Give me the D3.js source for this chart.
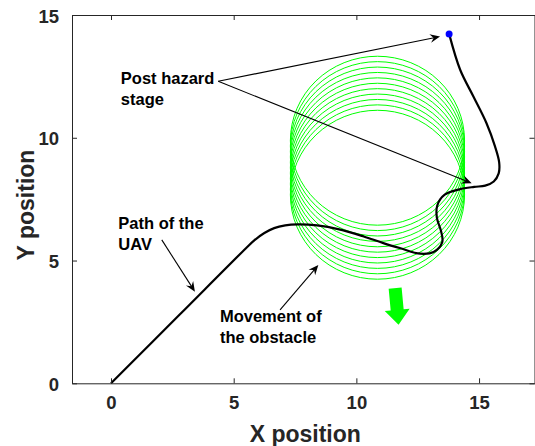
<!DOCTYPE html>
<html>
<head>
<meta charset="utf-8">
<script src="https://cdn.jsdelivr.net/npm/d3@7"></script>
<style>
  body { margin: 0; background: #fff; }
  text { font-family: 'Liberation Sans', Arial, Helvetica, sans-serif; font-weight: bold; }
</style>
</head>
<body>
<div id="chart"></div>
<script>
// ticks
const xTicks = [0, 5, 10, 15]
const yTicks = [0, 5, 10, 15]

// path of the UAV (x, y)
const uavX = [0, 2.8, 5.5, 5.85, 6.25, 6.65, 7.1, 7.6, 8.4, 9.3, 10.3, 11.1, 11.8, 12.6, 13.15, 13.5, 13.45, 13.28, 13.3, 13.6, 14.2, 14.8, 15.25, 15.6, 15.8, 15.82, 15.65, 15.3, 14.77, 14.23, 13.78]
const uavY = [0, 2.8, 5.5, 5.83, 6.12, 6.32, 6.43, 6.47, 6.43, 6.27, 5.98, 5.71, 5.5, 5.28, 5.35, 5.75, 6.2, 6.75, 7.25, 7.68, 7.9, 8.0, 8.05, 8.22, 8.55, 9.0, 9.65, 10.6, 11.68, 12.77, 14.23]

// obstacle positions (circle centres) as it moves down
const obstacleX = [10.86, 10.86, 10.86, 10.86, 10.86, 10.86, 10.86, 10.86, 10.86, 10.86, 10.86]
const obstacleY = [9.88, 9.66, 9.44, 9.22, 9.0, 8.78, 8.56, 8.34, 8.12, 7.9, 7.68]
const obstacleRx = 3.55
const obstacleRy = 3.44

// movement arrow of the obstacle: [start, end]
const moveArrowX = [11.58, 11.72]
const moveArrowY = [3.88, 2.38]

// annotations
const labels = [
  { lines: ['Post hazard', 'stage'], x: 0.4, y: 12.2 },
  { lines: ['Path of the', 'UAV'], x: 0.3, y: 6.28 },
  { lines: ['Movement of', 'the obstacle'], x: 4.44, y: 2.51 }
]
const arrows = [
  { x1: 4.37, y1: 12.3, x2: 13.41, y2: 14.12 },
  { x1: 4.37, y1: 12.3, x2: 14.7, y2: 8.15 },
  { x1: 2.07, y1: 5.84, x2: 3.42, y2: 3.73 },
  { x1: 6.89, y1: 2.99, x2: 8.45, y2: 4.82 }
]

const W = 535
const H = 446
const plot = { left: 72, right: 534.5, top: 15, bottom: 383.3 }

const svg = d3
  .select('#chart')
  .append('svg')
  .attr('width', W)
  .attr('height', H)

const xPositionScale = d3
  .scaleLinear()
  .domain([-1.59, 17.26])
  .range([plot.left, plot.right])
const yPositionScale = d3
  .scaleLinear()
  .domain([0, 15])
  .range([plot.bottom, plot.top])

// obstacle circles
svg
  .selectAll('.obstacle')
  .data(obstacleY)
  .enter()
  .append('ellipse')
  .attr('class', 'obstacle')
  .attr('cx', (d, i) => xPositionScale(obstacleX[i]))
  .attr('cy', d => yPositionScale(d))
  .attr('rx', xPositionScale(obstacleRx) - xPositionScale(0))
  .attr('ry', yPositionScale(0) - yPositionScale(obstacleRy))
  .attr('fill', 'none')
  .attr('stroke', '#00ff00')
  .attr('stroke-width', 1)

// green movement arrow
{
  const sx = xPositionScale(moveArrowX[0])
  const sy = yPositionScale(moveArrowY[0])
  const ex = xPositionScale(moveArrowX[1])
  const ey = yPositionScale(moveArrowY[1])
  const len = Math.hypot(ex - sx, ey - sy)
  const ux = (ex - sx) / len
  const uy = (ey - sy) / len
  const px = -uy
  const py = ux
  const headLen = 15
  const shaftW = 6.5
  const headW = 12.5
  const bx = ex - ux * headLen
  const by = ey - uy * headLen
  const pts = [
    [sx + px * shaftW, sy + py * shaftW],
    [bx + px * shaftW, by + py * shaftW],
    [bx + px * headW, by + py * headW],
    [ex, ey],
    [bx - px * headW, by - py * headW],
    [bx - px * shaftW, by - py * shaftW],
    [sx - px * shaftW, sy - py * shaftW]
  ]
  svg
    .append('polygon')
    .attr('points', pts.map(p => p.join(',')).join(' '))
    .attr('fill', '#00ff00')
}

// UAV path
const uavPoints = uavX.map((x, i) => ({ x: x, y: uavY[i] }))
const line = d3
  .line()
  .x(d => xPositionScale(d.x))
  .y(d => yPositionScale(d.y))
  .curve(d3.curveCatmullRom.alpha(0.5))

svg
  .append('path')
  .datum(uavPoints)
  .attr('d', line)
  .attr('fill', 'none')
  .attr('stroke', '#000')
  .attr('stroke-width', 2.2)
  .attr('stroke-linejoin', 'round')

const last = uavPoints[uavPoints.length - 1]
svg
  .append('circle')
  .attr('cx', xPositionScale(last.x))
  .attr('cy', yPositionScale(last.y))
  .attr('r', 3.5)
  .attr('fill', '#0000ff')

// annotation arrows
arrows.forEach(a => {
  const sx = xPositionScale(a.x1)
  const sy = yPositionScale(a.y1)
  const ex = xPositionScale(a.x2)
  const ey = yPositionScale(a.y2)
  const len = Math.hypot(ex - sx, ey - sy)
  const ux = (ex - sx) / len
  const uy = (ey - sy) / len
  const px = -uy
  const py = ux
  svg
    .append('line')
    .attr('x1', sx)
    .attr('y1', sy)
    .attr('x2', ex - ux * 6)
    .attr('y2', ey - uy * 6)
    .attr('stroke', '#000')
    .attr('stroke-width', 1.1)
  const L = 10
  const N = 6.5
  const w = 4.3
  const head = [
    [ex, ey],
    [ex - ux * L + px * w, ey - uy * L + py * w],
    [ex - ux * N, ey - uy * N],
    [ex - ux * L - px * w, ey - uy * L - py * w]
  ]
  svg
    .append('polygon')
    .attr('points', head.map(p => p.join(',')).join(' '))
    .attr('fill', '#000')
})

// annotation texts
labels.forEach(l => {
  const t = svg
    .append('text')
    .attr('x', xPositionScale(l.x))
    .attr('y', yPositionScale(l.y))
    .attr('font-size', 16.5)
    .attr('fill', '#000')
  l.lines.forEach((s, i) => {
    t.append('tspan')
      .attr('x', xPositionScale(l.x))
      .attr('dy', i === 0 ? 0 : 21)
      .text(s)
  })
})

// axes box with inward ticks on all sides
const axisColor = '#262626'
const xAxisBottom = d3.axisBottom(xPositionScale).tickValues(xTicks).tickSizeInner(-5).tickSizeOuter(0).tickPadding(13)
const xAxisTop = d3.axisTop(xPositionScale).tickValues(xTicks).tickSizeInner(-5).tickSizeOuter(0).tickFormat('')
const yAxisLeft = d3.axisLeft(yPositionScale).tickValues(yTicks).tickSizeInner(-5).tickSizeOuter(0).tickPadding(13)
const yAxisRight = d3.axisRight(yPositionScale).tickValues(yTicks).tickSizeInner(-5).tickSizeOuter(0).tickFormat('')

svg.append('g').attr('class', 'axis x-axis').attr('transform', 'translate(0,' + plot.bottom + ')').call(xAxisBottom)
svg.append('g').attr('class', 'axis').attr('transform', 'translate(0,' + plot.top + ')').call(xAxisTop)
svg.append('g').attr('class', 'axis y-axis').attr('transform', 'translate(' + plot.left + ',0)').call(yAxisLeft)
svg.append('g').attr('class', 'axis').attr('transform', 'translate(' + plot.right + ',0)').call(yAxisRight)

svg.selectAll('.axis path').attr('stroke', axisColor).attr('stroke-width', 1)
svg.selectAll('.axis line').attr('stroke', axisColor).attr('stroke-width', 1)
svg
  .selectAll('.axis text')
  .attr('font-family', "'Liberation Sans', Arial, Helvetica, sans-serif")
  .attr('font-weight', 'bold')
  .attr('font-size', 18.5)
  .attr('fill', axisColor)
svg.selectAll('.y-axis text').attr('dy', '0.38em')

// axis titles
svg
  .append('text')
  .text('X position')
  .attr('x', (plot.left + plot.right) / 2 + 2)
  .attr('y', 441.5)
  .attr('text-anchor', 'middle')
  .attr('font-size', 23)
  .attr('fill', axisColor)

svg
  .append('text')
  .text('Y position')
  .attr('transform', 'translate(33.5,205) rotate(-90)')
  .attr('text-anchor', 'middle')
  .attr('font-size', 23)
  .attr('fill', axisColor)
</script>
</body>
</html>
